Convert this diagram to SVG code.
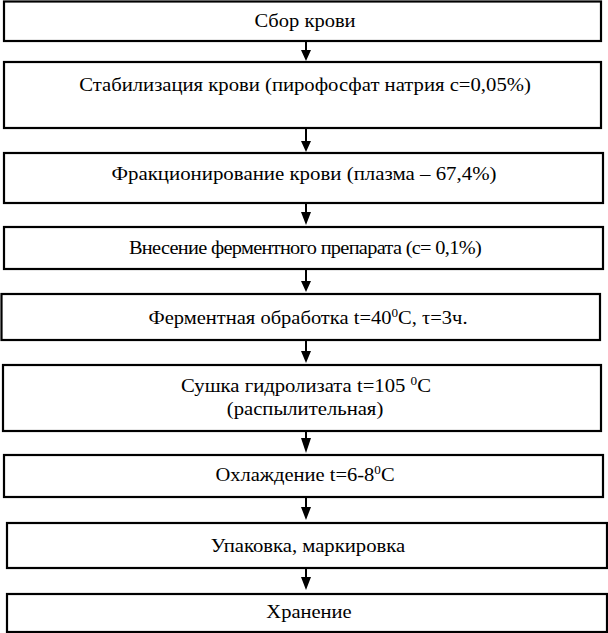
<svg xmlns="http://www.w3.org/2000/svg" width="608" height="633" viewBox="0 0 608 633">
<defs>
<style>
.box{fill:#fff;stroke:#000;stroke-width:2.2}
.t{font-family:"Liberation Serif","Times New Roman",serif;font-size:18px;fill:#000;text-anchor:middle}
.sup{font-size:11.5px}
.c{stroke:#000;stroke-width:2;fill:none}
.h{fill:#000;stroke:none}
</style>
</defs>
<rect width="608" height="633" fill="#fff"/>
<g id="n1"><rect class="box" x="4" y="1.5" width="597" height="39.5"/><text class="t" transform="translate(305 27) scale(1.14 1)">Сбор крови</text></g>
<g id="n2"><rect class="box" x="4" y="62" width="597" height="66"/><text class="t" transform="translate(305 91) scale(1.15 1)">Стабилизация крови (пирофосфат натрия с=0,05%)</text></g>
<g id="n3"><rect class="box" x="4" y="153" width="599" height="50"/><text class="t" transform="translate(304 180) scale(1.16 1)">Фракционирование крови (плазма – 67,4%)</text></g>
<g id="n4"><rect class="box" x="4" y="227" width="599" height="42"/><text class="t" transform="translate(305 254) scale(1.13 1)" letter-spacing="-0.6">Внесение ферментного препарата (с= 0,1%)</text></g>
<g id="n5"><rect class="box" x="1.5" y="294" width="598.5" height="46"/><text class="t" transform="translate(308 324) scale(1.14 1)">Ферментная обработка t=40<tspan class="sup" dy="-7">0</tspan><tspan dy="7">C, τ=3ч.</tspan></text></g>
<g id="n6"><rect class="box" x="3" y="365" width="598" height="66"/><text class="t" transform="translate(306 392) scale(1.15 1)">Сушка гидролизата t=105 <tspan class="sup" dy="-7">0</tspan><tspan dy="7">C</tspan></text><text class="t" transform="translate(305 415) scale(1.15 1)">(распылительная)</text></g>
<g id="n7"><rect class="box" x="4" y="455" width="599" height="42"/><text class="t" transform="translate(305 481) scale(1.14 1)">Охлаждение t=6-8<tspan class="sup" dy="-7">0</tspan><tspan dy="7">C</tspan></text></g>
<g id="n8"><rect class="box" x="7" y="523" width="600" height="45"/><text class="t" transform="translate(308 552) scale(1.15 1)">Упаковка, маркировка</text></g>
<g id="n9"><rect class="box" x="7" y="594" width="600" height="38"/><text class="t" transform="translate(309 618) scale(1.14 1)">Хранение</text></g>
<g id="connectors">
<path class="c" d="M306 41V52M306 128V143M306 203V214M306 269V283M306 340V353M306 431V440M306 497V509M306 568V579"/>
<path class="h" d="M301 50H311L306 61ZM301 141H311L306 152ZM301 212H311L306 225ZM301 281H311L306 292ZM301 351H311L306 363ZM301 438H311L306 453ZM301 507H311L306 520ZM301 577H311L306 590Z"/>
</g>
</svg>
